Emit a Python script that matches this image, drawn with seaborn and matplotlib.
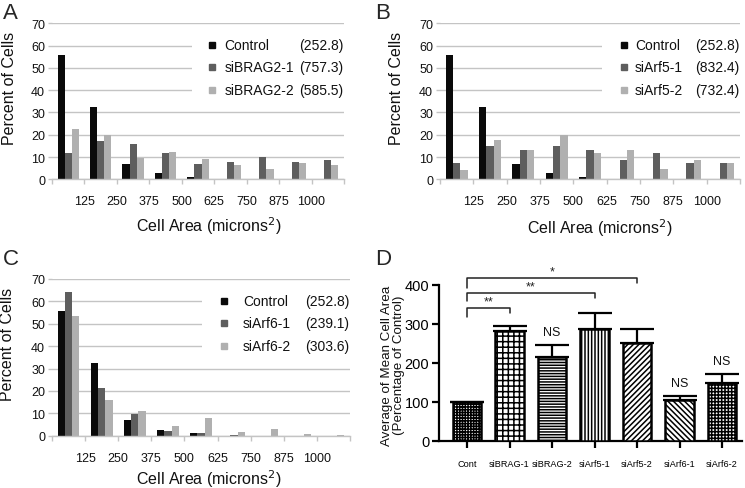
import numpy as np
import pandas as pd
import matplotlib
matplotlib.use("Agg")
import matplotlib.pyplot as plt
from matplotlib.patches import Rectangle
import seaborn as sns

# ---------------- data ----------------
bins = ["0-125", "125-250", "250-375", "375-500", "500-625",
        "625-750", "750-875", "875-1000", ">1000"]
tick_labels = ["125", "250", "375", "500", "625", "750", "875", "1000"]

control = [55.7, 32.5, 7.0, 2.7, 1.2, 0.0, 0.0, 0.0, 0.0]
sibrag2_1 = [11.8, 17.4, 15.9, 11.8, 7.0, 7.9, 10.2, 7.9, 8.7]
sibrag2_2 = [22.7, 19.9, 9.6, 12.4, 9.0, 6.4, 4.5, 7.2, 6.6]
siarf5_1 = [7.3, 14.8, 13.3, 14.8, 13.3, 8.8, 12.0, 7.5, 7.3]
siarf5_2 = [4.3, 17.5, 13.0, 19.8, 11.7, 13.0, 4.5, 8.7, 7.3]
siarf6_1 = [64.3, 21.2, 9.7, 2.2, 1.0, 0.4, 0.0, 0.0, 0.0]
siarf6_2 = [53.4, 15.8, 11.2, 4.2, 7.8, 1.8, 3.1, 0.7, 0.4]

names_a = ["Control", "siBRAG2-1", "siBRAG2-2"]
means_a = ["252.8", "757.3", "585.5"]
names_b = ["Control", "siArf5-1", "siArf5-2"]
means_b = ["252.8", "832.4", "732.4"]
names_c = ["Control", "siArf6-1", "siArf6-2"]
means_c = ["252.8", "239.1", "303.6"]

d_conds = ["Cont", "siBRAG-1", "siBRAG-2", "siArf5-1", "siArf5-2", "siArf6-1", "siArf6-2"]
d_means = [100, 282, 215, 288, 252, 106, 148]
d_sem = [0, 14, 32, 40, 36, 10, 24]
d_sig = ["", "**", "NS", "**", "*", "NS", "NS"]

# ---------------- style ----------------
sns.set_theme(style="white")
plt.rcParams["font.family"] = ["Liberation Sans", "DejaVu Sans"]
plt.rcParams["hatch.linewidth"] = 1.1

bar_colors = ["#0a0a0a", "#5e5e5e", "#b0b0b0"]
grid_col = "#c4c4c4"

fig = plt.figure(figsize=(7.45, 4.89), dpi=100)

def fpos(l, r, b, t):
    W, H = 745, 489
    return [l / W, 1 - b / H, (r - l) / W, (b - t) / H]

ax_a = fig.add_axes(fpos(52, 344, 180.3, 24.3))
ax_b = fig.add_axes(fpos(440, 740, 180.3, 24.3))
ax_c = fig.add_axes(fpos(52, 350, 436.7, 280.0))
ax_d = fig.add_axes(fpos(439, 742, 442, 286))


def hist_panel(ax, s1, s2, names, vals, leg_mx, leg_tx, box_x0, ylab_x, xlab_x, xlab_y):
    df = pd.DataFrame({
        "bin": bins * 3,
        "pct": control + s1 + s2,
        "cond": [names[0]] * 9 + [names[1]] * 9 + [names[2]] * 9,
    })
    sns.barplot(data=df, x="bin", y="pct", hue="cond", order=bins, hue_order=names,
                palette=bar_colors, width=0.66, saturation=1, legend=False,
                errorbar=None, ax=ax, linewidth=0)
    ax.set_axisbelow(True)
    ax.set_ylim(0, 70)
    ax.set_yticks(np.arange(0, 71, 10))
    ax.set_xlim(-0.5, 8.5)
    ax.set_xticks(np.arange(-0.5, 9.0, 1.0))
    ax.set_xticklabels([""] + tick_labels + [""])
    ax.yaxis.grid(True, color=grid_col, linewidth=1.0)
    for s in ["top", "right", "left"]:
        ax.spines[s].set_visible(False)
    ax.spines["bottom"].set_color(grid_col)
    ax.spines["bottom"].set_linewidth(1.0)
    ax.tick_params(axis="x", bottom=True, length=3.5, width=1.0, color=grid_col,
                   pad=8, labelsize=9, labelcolor="#111111")
    ax.tick_params(axis="y", left=True, length=3, width=1.0, color=grid_col,
                   pad=2, labelsize=9, labelcolor="#111111")
    ax.set_ylabel("Percent of Cells", fontsize=11.5, color="#111111")
    ax.set_xlabel("Cell Area (microns$^2$)", fontsize=11.5, color="#111111")
    ax.yaxis.set_label_coords(ylab_x, 0.59)
    ax.xaxis.set_label_coords(xlab_x, xlab_y)
    # legend drawn as text
    ax.add_patch(Rectangle((box_x0, 0.51), 1.02 - box_x0, 0.42, transform=ax.transAxes,
                           facecolor="white", edgecolor="none", zorder=2, clip_on=False))
    rows = [0.862, 0.717, 0.575]
    for y, n, v, c in zip(rows, names, vals, bar_colors):
        ax.plot([leg_mx], [y], marker="s", ms=4, color=c, transform=ax.transAxes,
                zorder=3, clip_on=False, linestyle="none")
        ax.text(leg_tx, y, n, transform=ax.transAxes, ha="left", va="center",
                fontsize=10, color="#111111", zorder=3)
        ax.text(0.998, y, f"({v})", transform=ax.transAxes, ha="right", va="center",
                fontsize=10, color="#111111", zorder=3)


hist_panel(ax_a, sibrag2_1, sibrag2_2, names_a, means_a, 0.548, 0.590, 0.48,
           -0.12, 0.538, -0.225)
hist_panel(ax_b, siarf5_1, siarf5_2, names_b, means_b, 0.613, 0.650, 0.54,
           -0.12, 0.532, -0.235)
hist_panel(ax_c, siarf6_1, siarf6_2, names_c, means_c, 0.577, 0.641, 0.505,
           -0.124, 0.527, -0.2)

# ---------------- panel D ----------------
sns.barplot(x=d_conds, y=d_means, color="white", edgecolor="black", linewidth=1.8,
            width=0.68, saturation=1, errorbar=None, ax=ax_d, zorder=3)
hatches = ["++++++", "+++", "------", "|||||", "//////", "\\\\\\\\\\\\", "+++++"]
for p, h in zip(ax_d.patches, hatches):
    p.set_hatch(h)
ax_d.errorbar(np.arange(len(d_conds)), d_means,
              yerr=[np.zeros(len(d_sem)), d_sem], fmt="none", ecolor="black",
              elinewidth=1.6, capsize=12, capthick=1.6, zorder=2)
ax_d.set_ylim(0, 400)
ax_d.set_xlim(-0.66, 6.47)
ax_d.set_yticks([0, 100, 200, 300, 400])
for s in ["top", "right"]:
    ax_d.spines[s].set_visible(False)
for s in ["left", "bottom"]:
    ax_d.spines[s].set_color("black")
    ax_d.spines[s].set_linewidth(1.6)
ax_d.tick_params(axis="x", bottom=True, length=5, width=1.6, color="black",
                 pad=8, labelsize=6.6, labelcolor="black")
ax_d.tick_params(axis="y", left=True, length=5, width=1.6, color="black",
                 pad=2, labelsize=10.5, labelcolor="black")
ax_d.set_ylabel("Average of Mean Cell Area\n(Percentage of Control)", fontsize=9.6,
                color="#111111", linespacing=1.05)
ax_d.yaxis.set_label_coords(-0.112, 0.49)

for i, s in enumerate(d_sig):
    if s == "NS":
        ax_d.text(i, d_means[i] + d_sem[i] + 33, s, ha="center", va="center",
                  fontsize=9, color="#111111")

brackets = [(1, 341, 318, 329), (3, 379, 359, 367), (4, 417, 393, 406)]
for j, yt, yl, yr in brackets:
    ax_d.plot([0, 0, j, j], [yl, yt, yt, yr], color="#222222", linewidth=1.1,
              clip_on=False)
    ax_d.text(j / 2, yt + 2, d_sig[j], ha="center", va="bottom", fontsize=9,
              color="#222222")

# panel letters
fig.text(3 / 745, 1 - 3 / 489, "A", fontsize=16, va="top", ha="left")
fig.text(375 / 745, 1 - 3 / 489, "B", fontsize=16, va="top", ha="left")
fig.text(3 / 745, 1 - 249 / 489, "C", fontsize=16, va="top", ha="left")
fig.text(375 / 745, 1 - 249 / 489, "D", fontsize=16, va="top", ha="left")

fig.savefig("out.png", dpi=100)
